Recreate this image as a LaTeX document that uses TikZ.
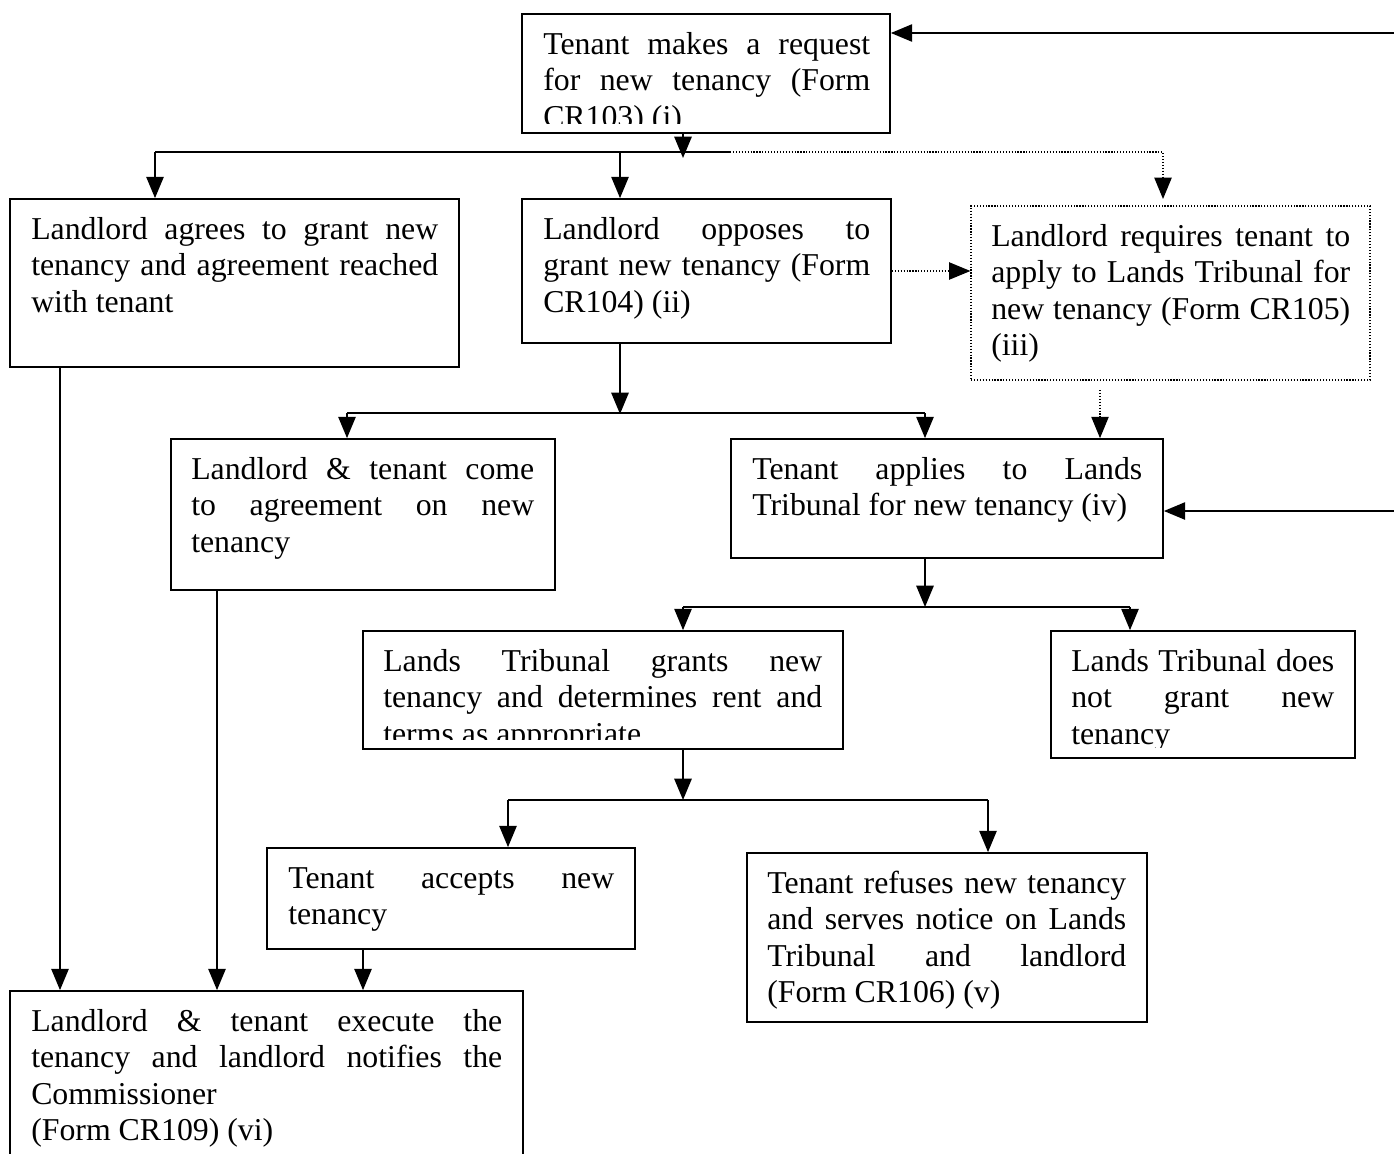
\documentclass[tikz,border=0pt]{standalone}
\usepackage{fontspec}
\setmainfont{Liberation Serif}
\usetikzlibrary{arrows.meta,fit}
\newcommand\jl[1]{\makebox[\linewidth][s]{#1}}
\begin{document}
\begin{tikzpicture}[x=0.75pt,y=-0.75pt,
  box/.style={draw, line width=1.3pt, inner sep=0pt},
  dbox/.style={draw, line width=0.9pt, dash pattern=on 0.9pt off 1.3pt, inner sep=0pt},
  txt/.style={inner sep=0pt, anchor=base west, font=\fontsize{23.85pt}{27.45pt}\selectfont},
  conn/.style={line width=1.3pt},
  arr/.style={line width=1.3pt, -{Triangle[length=16pt,width=13pt]}},
  dconn/.style={line width=0.9pt, dash pattern=on 0.9pt off 1.3pt},
  darr/.style={dconn, -{Triangle[length=16pt,width=13pt]}}]
\useasboundingbox (0,0) rectangle (1394,1153);
\clip (0,0) rectangle (1394,1153);

% boxes
\node[box, fit={(522,14) (890,133)}] (top) {};
\node[box, fit={(10,199) (459,367)}] (A) {};
\node[box, fit={(522,199) (891,343)}] (B) {};
\node[dbox, fit={(971,206) (1370,380)}] (C) {};
\node[box, fit={(171,439) (555,590)}] (D) {};
\node[box, fit={(731,439) (1163,558)}] (E) {};
\node[box, fit={(363,631) (843,749)}] (F) {};
\node[box, fit={(1051,631) (1355,758)}] (G) {};
\node[box, fit={(267,848) (635,949)}] (H) {};
\node[box, fit={(747,853) (1147,1022)}] (I) {};
\node[box, fit={(10,991) (523,1200)}] (J) {};

% texts
\begin{scope}
\clip (522,14) rectangle (890,123);
\node[txt] (ttop) at (543,54) {\begin{minipage}[t]{245.25pt}\jl{Tenant makes a request}\\\jl{for new tenancy (Form}\\CR103) (i)\end{minipage}};
\end{scope}
\node[txt] (tA) at (31,239) {\begin{minipage}[t]{305.25pt}\jl{Landlord agrees to grant new}\\\jl{tenancy and agreement reached}\\with tenant\end{minipage}};
\node[txt] (tB) at (543,239) {\begin{minipage}[t]{245.25pt}\jl{Landlord opposes to}\\\jl{grant new tenancy (Form}\\CR104) (ii)\end{minipage}};
\node[txt] (tC) at (991,246) {\begin{minipage}[t]{269.25pt}\jl{Landlord requires tenant to}\\\jl{apply to Lands Tribunal for}\\\jl{new tenancy (Form CR105)}\\(iii)\end{minipage}};
\node[txt] (tD) at (191,479) {\begin{minipage}[t]{257.25pt}\jl{Landlord \& tenant come}\\\jl{to agreement on new}\\tenancy\end{minipage}};
\node[txt] (tE) at (752,479) {\begin{minipage}[t]{292.5pt}\jl{Tenant applies to Lands}\\Tribunal for new tenancy (iv)\end{minipage}};
\begin{scope}
\clip (363,631) rectangle (843,739);
\node[txt] (tF) at (383,671) {\begin{minipage}[t]{329.25pt}\jl{Lands Tribunal grants new}\\\jl{tenancy and determines rent and}\\terms as appropriate\end{minipage}};
\end{scope}
\begin{scope}
\clip (1051,631) rectangle (1355,747);
\node[txt] (tG) at (1071,671) {\begin{minipage}[t]{197.25pt}\jl{Lands Tribunal does}\\\jl{not grant new}\\tenancy\end{minipage}};
\end{scope}
\node[txt] (tH) at (288,888) {\begin{minipage}[t]{244.5pt}\jl{Tenant accepts new}\\tenancy\end{minipage}};
\node[txt] (tI) at (767,893) {\begin{minipage}[t]{269.25pt}\jl{Tenant refuses new tenancy}\\\jl{and serves notice on Lands}\\\jl{Tribunal and landlord}\\(Form CR106) (v)\end{minipage}};
\node[txt] (tJ) at (31,1031) {\begin{minipage}[t]{353.25pt}\jl{Landlord \& tenant execute the}\\\jl{tenancy and landlord notifies the}\\Commissioner\\(Form CR109) (vi)\end{minipage}};

% connectors
\coordinate (r1) at (1400,33);
\draw[arr] (r1) -- (r1 -| top.east);
\coordinate (r2) at (1400,511);
\draw[arr] (r2) -- (r2 -| E.east);

\coordinate (k0) at (683,158);
\draw[arr] (top.south -| k0) -- (k0);
\coordinate (hA) at (155,152);
\coordinate (hB) at (620,152);
\coordinate (hM) at (730,152);
\coordinate (hC) at (1163,152);
\coordinate (hCe) at (1163,199);
\draw[conn] (hA) -- (hM);
\draw[darr] (hM) -- (hC) -- (hCe);
\draw[arr] (hA) -- (hA |- A.north);
\draw[arr] (hB) -- (hB |- B.north);
\draw[darr] (B.east) -- (B.east -| C.west);
\coordinate (c1) at (1100,390);
\draw[darr] (c1) -- (c1 |- E.north);

\coordinate (k1) at (620,414);
\draw[arr] (B.south -| k1) -- (k1);
\coordinate (hD) at (347,413);
\coordinate (hE) at (925,413);
\draw[conn] (hD) -- (hE);
\draw[arr] (hD) -- (hD |- D.north);
\draw[arr] (hE) -- (hE |- E.north);

\coordinate (xA) at (60,0);
\coordinate (xD) at (217,0);
\coordinate (xH) at (363,0);
\draw[arr] (A.south -| xA) -- (J.north -| xA);
\draw[arr] (D.south -| xD) -- (J.north -| xD);
\draw[arr] (H.south -| xH) -- (J.north -| xH);

\coordinate (k2) at (925,607);
\draw[arr] (E.south -| k2) -- (k2);
\coordinate (hF) at (683,607);
\coordinate (hG) at (1130,607);
\draw[conn] (hF) -- (hG);
\draw[arr] (hF) -- (hF |- F.north);
\draw[arr] (hG) -- (hG |- G.north);

\coordinate (k3) at (683,800);
\draw[arr] (F.south -| k3) -- (k3);
\coordinate (hH) at (508,800);
\coordinate (hI) at (988,800);
\draw[conn] (hH) -- (hI);
\draw[arr] (hH) -- (hH |- H.north);
\draw[arr] (hI) -- (hI |- I.north);
\end{tikzpicture}
\end{document}
